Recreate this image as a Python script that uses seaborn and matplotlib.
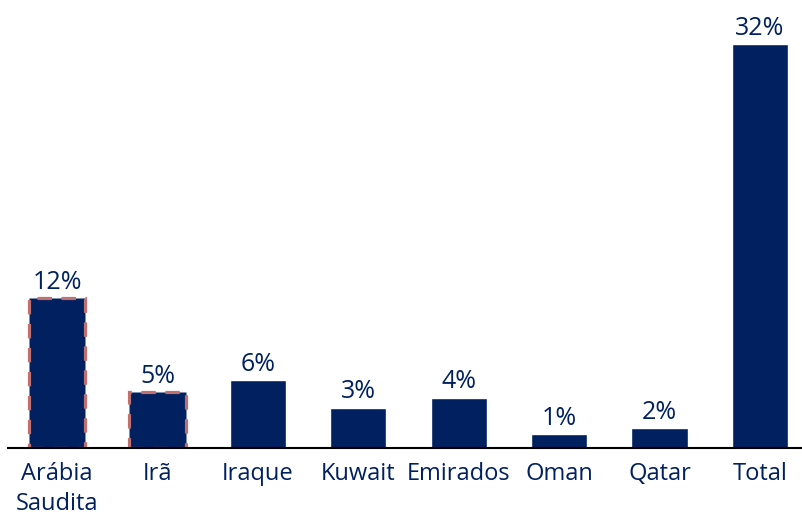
import pandas as pd
import matplotlib
matplotlib.use('Agg')
import matplotlib.pyplot as plt
import seaborn as sns

paises = ['Arábia\nSaudita', 'Irã', 'Iraque', 'Kuwait', 'Emirados', 'Oman', 'Qatar', 'Total']
valores = [11.9, 4.4, 5.4, 3.2, 4.0, 1.1, 1.6, 32.0]
rotulos = ['12%', '5%', '6%', '3%', '4%', '1%', '2%', '32%']
destacados = ['Arábia\nSaudita', 'Irã']

azul = '#002060'
salmao = '#c0706e'

sns.set_style('white')
plt.rcParams['font.family'] = ['Open Sans', 'DejaVu Sans']

df = pd.DataFrame({'pais': paises, 'valor': valores})

fig = plt.figure(figsize=(8.03, 5.17), dpi=100)
ax = fig.add_axes([8 / 803, 69 / 517, 795 / 803, 448 / 517])
sns.barplot(data=df, x='pais', y='valor', color=azul, saturation=1, width=0.56, ax=ax)

for barra, pais, rot in zip(ax.patches, paises, rotulos):
    if pais in destacados:
        barra.set_edgecolor(salmao)
        barra.set_linestyle((0, (4.5, 3)))
        barra.set_linewidth(2.3)
    ax.text(barra.get_x() + barra.get_width() / 2, barra.get_height() + 0.25, rot,
            ha='center', va='bottom', fontsize=18, color=azul)

ax.set_xlim(-0.49, 7.43)
ax.set_ylim(0, 35.5)
ax.set_xlabel('')
ax.set_ylabel('')
ax.set_yticks([])
ax.set_xticks(range(len(paises)))
ax.set_xticklabels(paises, linespacing=1.35)
ax.tick_params(axis='x', labelsize=17, labelcolor=azul, length=0, pad=10)
sns.despine(ax=ax, left=True)
ax.spines['bottom'].set_color('black')
ax.spines['bottom'].set_linewidth(1.5)

plt.savefig('out.png', dpi=100)
